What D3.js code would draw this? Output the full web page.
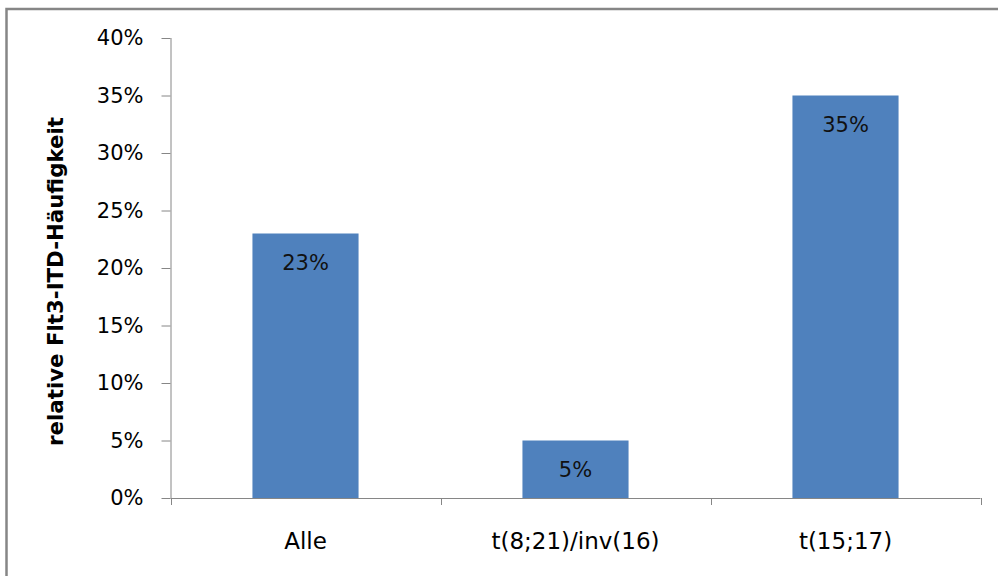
<!DOCTYPE html>
<html>
<head>
<meta charset="utf-8">
<script src="https://cdn.jsdelivr.net/npm/d3@7/dist/d3.min.js"></script>
<style>
  html, body { margin: 0; padding: 0; background: #ffffff; }
  svg { display: block; }
  text { font-family: "DejaVu Sans", sans-serif; fill: #000; }
</style>
</head>
<body>
<svg id="chart" width="998" height="576"></svg>
<script>
// Flt3-ITD frequency by cytogenetic group
const categories = ["Alle", "t(8;21)/inv(16)", "t(15;17)"];
const values = [0.23, 0.05, 0.35];
const valueLabels = ["23%", "5%", "35%"];
const yTicks = [0, 0.05, 0.10, 0.15, 0.20, 0.25, 0.30, 0.35, 0.40];
const yTitle = "relative Flt3-ITD-Häufigkeit";

const svg = d3.select("#chart");
const W = 998, H = 576;
const plot = { left: 170.5, right: 980.5, top: 38, bottom: 498 };

// outer chart frame (only top and left edges fall inside the canvas)
svg.append("path")
  .attr("d", `M6.5,${H + 5} V9 H${W + 5}`)
  .attr("fill", "none")
  .attr("stroke", "#868686")
  .attr("stroke-width", 2.5);

const x = d3.scaleBand()
  .domain(categories)
  .range([plot.left, plot.right])
  .paddingInner(0.607)
  .paddingOuter(0.3035);

const y = d3.scaleLinear()
  .domain([0, 0.4])
  .range([plot.bottom, plot.top]);

// bars
svg.append("g")
  .selectAll("rect")
  .data(categories)
  .join("rect")
  .attr("x", d => x(d))
  .attr("y", (d, i) => y(values[i]))
  .attr("width", x.bandwidth())
  .attr("height", (d, i) => y(0) - y(values[i]))
  .attr("fill", "#4f81bd");

// value labels inside the bars
svg.append("g")
  .selectAll("text")
  .data(categories)
  .join("text")
  .attr("x", d => x(d) + x.bandwidth() / 2)
  .attr("y", (d, i) => y(values[i]) + 36.5)
  .attr("text-anchor", "middle")
  .style("font-size", "21px")
  .style("fill", "#111")
  .text((d, i) => valueLabels[i]);

// y axis
const yAxis = svg.append("g")
  .attr("transform", `translate(${plot.left},0)`)
  .call(d3.axisLeft(y).tickValues(yTicks).tickFormat(d3.format(".0%"))
    .tickSize(9).tickPadding(18));
yAxis.select(".domain").attr("stroke", "#868686").attr("d", `M0.5,${plot.top}V${plot.bottom}`);
yAxis.selectAll(".tick line").attr("stroke", "#868686");
yAxis.selectAll(".tick text")
  .style("font-size", "21px")
  .style("font-family", "DejaVu Sans, sans-serif")
  .attr("fill", "#000");

// x axis with boundary ticks between categories
const xAxisG = svg.append("g").attr("transform", `translate(0,${plot.bottom})`);
xAxisG.append("line")
  .attr("x1", plot.left).attr("x2", plot.right)
  .attr("y1", 0.5).attr("y2", 0.5)
  .attr("stroke", "#868686");
const bounds = categories.map(d => x(d) - x.step() * x.paddingInner() / 2).concat([plot.right]);
xAxisG.selectAll("line.tk")
  .data(bounds)
  .join("line")
  .attr("class", "tk")
  .attr("x1", d => Math.round(d) + 0.5).attr("x2", d => Math.round(d) + 0.5)
  .attr("y1", 0).attr("y2", 7)
  .attr("stroke", "#868686");
xAxisG.selectAll("text")
  .data(categories)
  .join("text")
  .attr("x", d => x(d) + x.bandwidth() / 2)
  .attr("y", 50.5)
  .attr("text-anchor", "middle")
  .style("font-size", "23px")
  .text(d => d);

// y axis title
svg.append("text")
  .attr("transform", "translate(63,281.5) rotate(-90)")
  .attr("text-anchor", "middle")
  .style("font-size", "21.3px")
  .style("font-weight", "bold")
  .text(yTitle);
</script>
</body>
</html>
